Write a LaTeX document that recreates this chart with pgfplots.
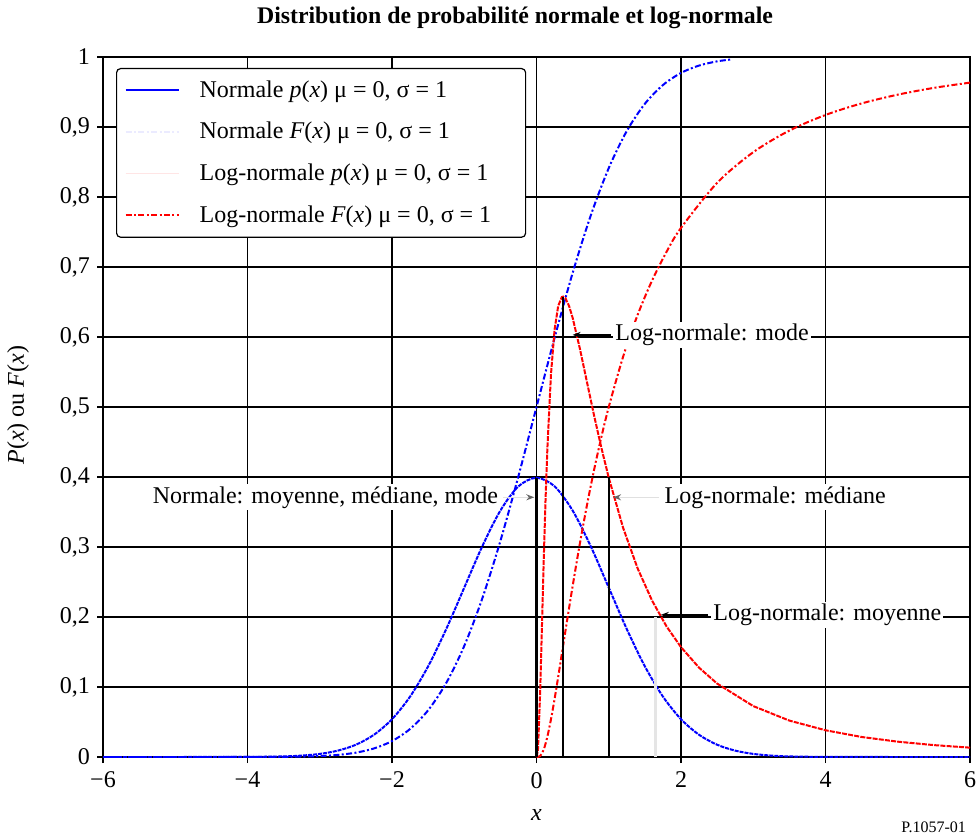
\documentclass[border=0pt]{standalone}
\usepackage{fontspec}
\setmainfont{Liberation Serif}
\usepackage{pgfplots}
\pgfplotsset{compat=1.18}
\usetikzlibrary{arrows.meta}
\begin{document}
\begin{tikzpicture}
\useasboundingbox (-51.5pt,-39.5pt) rectangle (438.5pt,378.5pt);
\begin{axis}[
  at={(0,0)}, anchor=south west, scale only axis,
  width=433.5pt, height=350pt,
  xmin=-6, xmax=6, ymin=0, ymax=1,
  xtick={-6,-4,-2,0,2,4,6},
  xticklabels={−6,−4,−2,0,2,4,6},
  ytick={0,0.1,0.2,0.3,0.4,0.5,0.6,0.7,0.8,0.9,1},
  yticklabels={0,{0,1},{0,2},{0,3},{0,4},{0,5},{0,6},{0,7},{0,8},{0,9},1},
  grid=major,
  major grid style={black, line width=0.6pt},
  axis line style={black, line width=0.8pt},
  tick align=outside, major tick length=3pt,
  tick style={black, line width=0.6pt},
  xtick pos=bottom, ytick pos=left,
  ticklabel style={font=\fontsize{12}{14}\selectfont},
  xticklabel style={yshift=-1pt},
  legend image code/.code={\draw[#1] (0pt,0pt) -- (26.5pt,0pt);},
  legend style={at={(6.5pt,344.5pt)}, anchor=north west, draw=black, line width=0.6pt,
    rounded corners=2pt, font=\fontsize{12}{14}\selectfont,
    row sep=7pt, inner xsep=4pt, inner ysep=4pt,
    nodes={inner sep=2pt}},
  legend cell align=left,
  /tikz/every odd column/.append style={column sep=8pt},
]
% Normal pdf
\addplot[blue, line width=1pt, dash pattern=on 2pt off 0.5pt, smooth, forget plot] coordinates {
(-6,0) (-5,0.0000015) (-4,0.00013) (-3.5,0.00087) (-3.25,0.00203) (-3,0.00443) (-2.75,0.00909)
(-2.5,0.01753) (-2.25,0.03174) (-2,0.05399) (-1.75,0.08628) (-1.5,0.12952) (-1.25,0.18265)
(-1,0.24197) (-0.75,0.30114) (-0.5,0.35207) (-0.25,0.38667) (0,0.39894)
(0.25,0.38667) (0.5,0.35207) (0.75,0.30114) (1,0.24197) (1.25,0.18265) (1.5,0.12952)
(1.75,0.08628) (2,0.05399) (2.25,0.03174) (2.5,0.01753) (2.75,0.00909) (3,0.00443)
(3.25,0.00203) (3.5,0.00087) (4,0.00013) (5,0.0000015) (6,0)};
% Normal CDF
\addplot[blue, line width=1pt, dash pattern=on 3pt off 1.2pt on 1pt off 1.2pt, smooth, forget plot] coordinates {
(-6,0) (-5,0) (-4,0.00003) (-3.5,0.00023) (-3.25,0.00058) (-3,0.00135) (-2.75,0.00298)
(-2.5,0.00621) (-2.25,0.01222) (-2,0.02275) (-1.75,0.04006) (-1.5,0.06681) (-1.25,0.10565)
(-1,0.15866) (-0.75,0.22663) (-0.5,0.30854) (-0.25,0.40129) (0,0.5)
(0.25,0.59871) (0.5,0.69146) (0.75,0.77337) (1,0.84134) (1.25,0.89435) (1.5,0.93319)
(1.75,0.95994) (2,0.97725) (2.25,0.98778) (2.5,0.99379) (2.7,0.99653)};
% Log-normal pdf
\addplot[red, line width=1pt, dash pattern=on 2.5pt off 0.6pt, forget plot] coordinates {
(0,0) (0.02,0.0095) (0.05,0.0899) (0.075,0.1857) (0.1,0.2815) (0.125,0.3673) (0.15,0.4398)
(0.2,0.5463) (0.25,0.6104) (0.3,0.6442) (0.35,0.6570) (0.368,0.6577) (0.4,0.6554)
(0.45,0.6445) (0.5,0.6275) (0.6,0.5836) (0.7,0.5348) (0.8,0.4864) (0.9,0.4408) (1,0.3989)
(1.2,0.3270) (1.4,0.2693) (1.6,0.2233) (1.8,0.1865) (2,0.1569) (2.25,0.1276) (2.5,0.1049)
(3,0.0727) (3.5,0.0520) (4,0.0382) (4.5,0.0286) (5,0.0219) (5.5,0.0170) (6,0.01335)};
% Log-normal CDF
\addplot[red, line width=1pt, dash pattern=on 3pt off 1.2pt on 1pt off 1.2pt, smooth, forget plot] coordinates {
(0,0) (0.05,0.0014) (0.1,0.0107) (0.15,0.0289) (0.2,0.0538) (0.25,0.0828) (0.3,0.1143)
(0.4,0.1798) (0.5,0.2441) (0.6,0.3047) (0.7,0.3607) (0.8,0.4117) (0.9,0.4580) (1,0.5)
(1.2,0.5723) (1.4,0.6317) (1.6,0.6808) (1.8,0.7217) (2,0.7559) (2.5,0.8202) (3,0.8640)
(3.5,0.8949) (4,0.9172) (4.5,0.9337) (5,0.9462) (5.5,0.9559) (6,0.9634)};
% vertical markers
\addplot[black, line width=1.2pt, forget plot] coordinates {(0,0) (0,0.399)};
\addplot[black, line width=1.2pt, forget plot] coordinates {(0.368,0) (0.368,0.657)};
\addplot[black, line width=1.2pt, forget plot] coordinates {(1,0) (1,0.399)};
\addplot[black!10, line width=1.2pt, forget plot] coordinates {(1.649,0) (1.649,0.2)};
% legend
\addlegendimage{blue, line width=1pt}
\addlegendentry{Normale \textit{p}(\textit{x}) μ = 0, σ = 1}
\addlegendimage{blue!8, line width=1pt, dash pattern=on 3pt off 1.2pt on 1pt off 1.2pt}
\addlegendentry{Normale \textit{F}(\textit{x}) μ = 0, σ = 1}
\addlegendimage{red!10, line width=0.6pt}
\addlegendentry{Log-normale \textit{p}(\textit{x}) μ = 0, σ = 1}
\addlegendimage{red, line width=1pt, dash pattern=on 3pt off 1.2pt on 1pt off 1.2pt}
\addlegendentry{\makebox[157pt][l]{Log-normale \textit{F}(\textit{x}) μ = 0, σ = 1}}
% annotations
\node[anchor=west, fill=white, inner sep=1pt, font=\fontsize{12}{14}\selectfont] at (axis cs:1.06,0.603) {Log-normale: mode};
\draw[-{Stealth[length=4pt]}, black, line width=0.8pt] (axis cs:1.03,0.603) -- (axis cs:0.5,0.603);
\node[anchor=west, fill=white, inner sep=1pt, font=\fontsize{12}{14}\selectfont] at (axis cs:1.74,0.371) {Log-normale: médiane};
\draw[-{Stealth[length=4pt, color=black!60]}, black!12, line width=0.8pt] (axis cs:1.7,0.371) -- (axis cs:1.06,0.371);
\node[anchor=east, fill=white, inner sep=1pt, font=\fontsize{12}{14}\selectfont] at (axis cs:-0.5,0.371) {Normale: moyenne, médiane, mode};
\draw[-{Stealth[length=4pt, color=black!60]}, black!12, line width=0.8pt] (axis cs:-0.46,0.371) -- (axis cs:-0.03,0.371);
\node[anchor=west, fill=white, inner sep=1pt, font=\fontsize{12}{14}\selectfont] at (axis cs:2.415,0.203) {Log-normale: moyenne};
\draw[-{Stealth[length=4pt]}, black, line width=0.8pt] (axis cs:2.38,0.203) -- (axis cs:1.72,0.203);
\end{axis}
\node[font=\bfseries\fontsize{11.9}{13.5}\selectfont] at (206pt,369.5pt) {Distribution de probabilité normale et log-normale};
\node[rotate=90, font=\fontsize{12}{14}\selectfont] at (-42.5pt,176pt) {\textit{P}(\textit{x}) ou \textit{F}(\textit{x})};
\node[font=\fontsize{12}{14}\selectfont] at (216.75pt,-29pt) {\textit{x}};
\node[anchor=east, font=\fontsize{8}{9}\selectfont] at (435pt,-35pt) {P.1057-01};
\end{tikzpicture}
\end{document}
